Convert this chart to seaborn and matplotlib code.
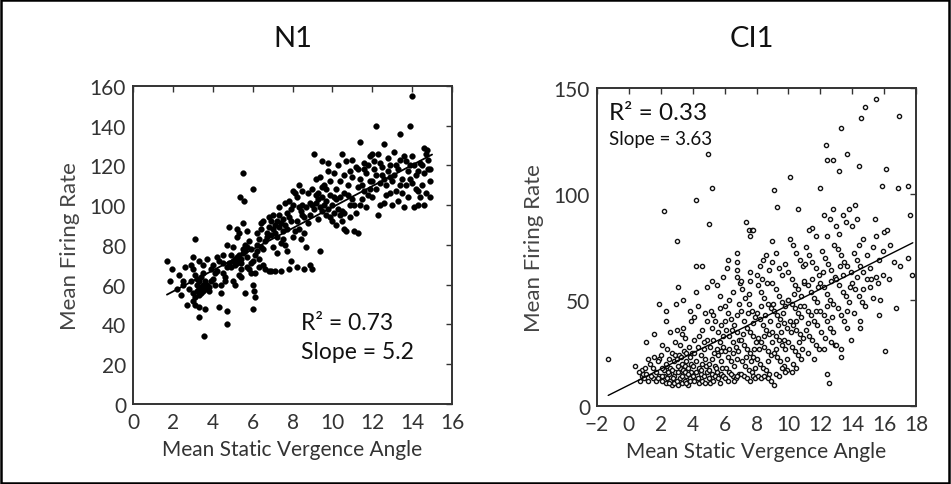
import matplotlib
matplotlib.use("Agg")
import matplotlib.pyplot as plt
import seaborn as sns
import pandas as pd
from matplotlib.patches import Rectangle

# ---------------- data ----------------
panel_titles = ["N1", "CI1"]
x_label = "Mean Static Vergence Angle"
y_label = "Mean Firing Rate"

n1_points = [
    (1.7,72),(1.95,68),(1.85,62),(2.5,62),(2.5,60),(2.3,65),(2.2,58),(2.4,55),(2.7,50),(2.6,69),(2.9,70),(2.8,58),(2.9,62),
    (3.0,68),(3.1,83),(3.1,65),(3.2,63),(3.2,60),(3.3,58),(3.3,62),(3.4,59),(3.4,56),(3.5,60),(3.5,57),(3.6,62),(3.6,58),
    (3.3,55),(3.2,57),(3.0,56),(3.1,54),(3.4,64),(3.5,66),(3.7,60),(3.8,59),(3.9,62),(3.7,73),(3.5,70),(3.3,72),(3.0,74),
    (3.1,50),(3.3,49),(3.6,48),(3.3,44),(3.55,34),(3.0,52),(3.8,57),(4.0,63),(4.1,66),(4.0,70),(3.9,68),
    (4.2,67),(4.3,72),(4.5,66),(4.3,49),(4.7,47),(4.7,40),(4.4,60),(4.6,62),(4.5,75),(4.8,71),(4.8,89),(4.9,75),(4.7,69),
    (4.9,69),(4.2,74),(4.6,64),(4.4,56),(4.1,60),(4.7,80),(4.5,71),
    (5.0,72),(5.1,73),(5.1,70),(5.2,71),(5.2,74),(5.3,72),(5.3,75),(5.4,73),(5.4,71),(5.5,78),(5.5,76),(5.6,77),(5.6,80),
    (5.7,74),(5.7,79),(5.8,82),(5.9,78),(5.0,79),(5.2,84),(5.3,86),(5.5,116),(5.35,104),(5.55,102),(5.5,91),(5.7,87),
    (5.0,62),(5.3,65),(5.4,64),(5.9,66),(5.8,68),(5.6,56),(5.7,69),(5.2,88),(5.1,60),(5.9,71),(5.4,68),
    (6.0,108),(6.05,57),(6.1,54),(6.0,48),(6.0,60),(6.0,72),(6.1,75),(6.2,77),(6.3,73),(6.2,80),(6.4,79),(6.3,83),(6.5,78),
    (6.6,82),(6.7,84),(6.5,92),(6.4,88),(6.7,86),(6.8,89),(6.9,85),(6.5,70),(6.6,68),(6.3,69),(6.8,67),(6.9,67),(6.1,66),
    (6.4,91),(6.8,94),(6.2,86),(6.9,92),
    (7.0,88),(7.1,90),(7.1,86),(7.2,92),(7.3,89),(7.3,95),(7.4,91),(7.5,93),(7.5,87),(7.6,90),(7.7,96),(7.7,88),(7.8,94),
    (7.9,92),(7.9,98),(7.2,84),(7.4,81),(7.5,83),(7.6,80),(7.0,79),(7.3,99),(7.6,101),(7.8,102),(7.1,67),(7.4,67),(7.8,68),
    (7.9,72),(7.2,76),(7.7,77),(7.0,95),
    (8.0,107),(8.1,106),(8.2,104),(8.3,99),(8.4,97),(8.5,100),(8.5,95),(8.6,94),(8.7,99),(8.2,92),(8.3,88),(8.1,87),(8.4,83),
    (8.6,86),(8.8,91),(8.9,95),(8.0,84),(8.2,69),(8.6,68),(8.9,70),(8.7,79),(8.5,107),(8.8,106),(8.3,110),(8.9,101),(8.0,100),
    (9.0,100),(9.1,98),(9.2,105),(9.2,101),(9.3,103),(9.4,99),(9.5,104),(9.5,97),(9.6,100),(9.7,102),(9.8,98),(9.9,105),
    (9.1,126),(9.2,113),(9.4,114),(9.6,110),(9.8,117),(9.0,108),(9.3,106),(9.5,122),(9.9,112),(9.7,95),(9.9,94),(9.3,93),
    (9.0,68),(9.4,77),(9.7,108),(9.5,109),(9.8,121),
    (10.0,100),(10.1,96),(10.2,103),(10.3,98),(10.4,95),(10.5,92),(10.6,88),(10.7,87),(10.5,97),(10.2,108),(10.4,112),
    (10.6,115),(10.8,110),(10.1,116),(10.3,120),(10.9,100),(10.8,105),(10.0,92),(10.2,90),(10.6,96),(10.9,94),(10.4,104),
    (10.7,122),(10.5,126),(10.9,117),(10.1,104),(10.6,106),
    (11.0,103),(11.1,100),(11.2,96),(11.3,109),(11.4,113),(11.5,110),(11.6,118),(11.7,116),(11.8,120),(11.9,112),(11.0,123),
    (11.2,119),(11.5,103),(11.8,105),(11.4,132),(11.6,107),(11.9,125),(11.1,87),(11.3,86),(11.7,99),(11.0,114),(11.3,118),
    (11.6,121),(11.9,108),(11.4,100),
    (12.0,112),(12.1,118),(12.2,140),(12.3,126),(12.4,121),(12.5,115),(12.6,113),(12.7,110),(12.8,117),(12.9,120),(12.0,104),
    (12.2,108),(12.4,100),(12.6,101),(12.8,124),(12.3,95),(12.9,106),(12.1,122),(12.5,119),(12.7,105),(12.0,126),(12.4,111),
    (12.9,114),(12.6,131),(12.2,115),
    (13.0,112),(13.1,115),(13.2,120),(13.3,118),(13.4,110),(13.5,113),(13.6,125),(13.7,122),(13.8,117),(13.9,120),(13.2,107),
    (13.5,106),(13.8,104),(13.4,136),(13.0,100),(13.3,102),(13.6,99),(13.9,140),(13.1,127),(13.7,110),(13.4,123),(13.9,113),
    (14.0,155),(14.0,125),(14.1,120),(14.2,108),(14.3,100),(14.4,104),(14.5,110),(14.6,116),(14.7,126),(14.8,118),(14.9,112),
    (14.1,99),(14.3,107),(14.5,120),(14.7,106),(14.9,104),(14.2,115),(14.4,121),(14.6,129),(14.8,123),(14.0,111),(14.3,117),
    (14.6,100),(14.9,118),(14.75,128),
]
n1_fit_x = [1.7, 15.0]
n1_fit_y = [55.0, 125.5]
n1_xticks = list(range(0, 17, 2))
n1_yticks = list(range(0, 161, 20))
n1_stats = ["R\u00b2 = 0.73", "Slope = 5.2"]

ci1_points = [
    (-1.3,22),(0.4,19),(0.8,17),(0.8,14),(0.7,12),(0.9,15),(1.1,30),(1.2,22),(0.6,16),(1.0,18),(0.95,13),
    (1.6,34),(1.9,48),(1.9,22),(1.5,13),(1.2,12),(1.4,14),(1.7,16),(1.8,21),(1.3,20),(1.6,23),(1.9,14),(1.7,12),(1.1,15),
    (1.5,18),(1.8,13),
    (2.2,92),(2.3,45),(2.3,40),(2.1,29),(2.0,24),(2.1,12),(2.2,14),(2.3,11),(2.4,13),(2.5,15),(2.6,12),(2.7,10),(2.8,14),
    (2.9,16),(2.2,17),(2.4,19),(2.6,18),(2.8,21),(2.9,12),(2.5,22),(2.7,25),(2.9,24),(2.3,20),(2.5,11),(2.8,11),(2.4,27),
    (2.7,17),(2.95,48),(2.9,30),(2.6,35),(2.1,18),(2.05,14),(2.45,16),(2.75,13),
    (3.0,78),(3.1,56),(3.4,50),(3.0,36),(3.3,34),(3.4,37),(3.5,32),(3.2,29),(3.8,45),(3.9,40),(3.0,12),(3.1,10),(3.2,13),
    (3.3,11),(3.4,15),(3.5,12),(3.6,14),(3.7,10),(3.8,13),(3.9,16),(3.1,16),(3.2,18),(3.3,20),(3.4,17),(3.5,19),(3.6,21),
    (3.7,18),(3.8,23),(3.9,20),(3.0,22),(3.15,24),(3.45,26),(3.75,28),(3.6,25),(3.3,14),(3.5,16),(3.7,15),(3.05,19),
    (3.25,23),(3.55,11),(3.85,12),(3.95,25),
    (4.2,97),(4.2,66),(4.6,66),(4.2,54),(4.1,42),(4.9,40),(4.0,14),(4.1,12),(4.2,16),(4.3,13),(4.4,11),(4.5,15),(4.6,12),
    (4.7,14),(4.8,11),(4.9,16),(4.0,19),(4.2,21),(4.4,18),(4.6,20),(4.8,22),(4.1,25),(4.3,28),(4.5,24),(4.7,27),(4.9,31),
    (4.4,33),(4.6,36),(4.8,44),(4.9,56),(4.3,47),(4.7,30),(4.05,31),(4.55,17),(4.85,19),
    (5.0,86),(4.95,119),(5.2,103),(5.15,45),(5.2,59),(5.5,57),(5.7,52),(5.9,61),(5.0,13),(5.1,11),(5.2,15),(5.3,12),
    (5.4,14),(5.5,16),(5.6,13),(5.7,11),(5.8,15),(5.9,14),(5.0,20),(5.2,22),(5.4,19),(5.6,24),(5.8,21),(5.1,28),(5.3,31),
    (5.5,27),(5.7,30),(5.9,33),(5.2,37),(5.4,40),(5.6,35),(5.8,38),(5.3,43),(5.7,46),(5.9,28),(5.05,17),(5.45,18),
    (5.85,18),(5.35,25),(5.75,26),
    (6.2,69),(6.15,65),(6.8,72),(6.8,68),(6.8,64),(6.8,61),(6.5,54),(6.3,50),(6.0,47),(6.2,44),(6.4,41),(6.6,38),(6.8,35),
    (6.9,48),(6.1,36),(6.3,33),(6.5,30),(6.7,28),(6.9,31),(6.0,26),(6.2,23),(6.4,21),(6.6,19),(6.8,22),(6.1,18),(6.3,16),
    (6.5,14),(6.7,13),(6.9,15),(6.0,13),(6.2,12),(6.4,15),(6.6,12),(6.8,14),(6.25,27),(6.55,25),(6.85,26),(6.45,36),
    (6.75,43),(6.05,40),(6.95,58),
    (7.35,87),(7.5,83),(7.7,83),(7.6,80),(7.8,83),(7.0,59),(7.6,59),(7.6,63),(7.1,55),(7.3,51),(7.5,48),(7.7,45),(7.9,42),
    (7.2,40),(7.4,37),(7.6,35),(7.8,33),(7.0,31),(7.2,29),(7.4,27),(7.6,25),(7.8,23),(7.1,21),(7.3,19),(7.5,17),(7.7,16),
    (7.9,18),(7.0,15),(7.2,14),(7.4,13),(7.6,12),(7.8,14),(7.9,13),(7.15,34),(7.45,44),(7.75,39),(7.95,30),(7.35,23),
    (7.65,21),(7.85,27),(7.05,45),(7.55,53),
    (8.0,62),(8.2,66),(8.4,69),(8.6,71),(8.8,64),(8.1,57),(8.3,54),(8.5,51),(8.7,48),(8.9,46),(8.0,44),(8.2,41),(8.4,38),
    (8.6,36),(8.8,34),(8.1,32),(8.3,30),(8.5,28),(8.7,26),(8.9,24),(8.0,22),(8.2,20),(8.4,18),(8.6,17),(8.8,15),(8.1,14),
    (8.3,13),(8.5,14),(8.7,13),(8.9,12),(8.25,47),(8.55,43),(8.85,40),(8.45,33),(8.75,21),(8.15,27),(8.95,30),(8.35,60),
    (8.65,58),
    (9.1,102),(9.3,94),(9.0,78),(9.1,10),(9.0,68),(9.2,72),(9.4,65),(9.6,62),(9.8,67),(9.0,58),(9.2,55),(9.4,52),(9.6,49),
    (9.8,47),(9.1,45),(9.3,43),(9.5,41),(9.7,39),(9.9,37),(9.0,35),(9.2,33),(9.4,31),(9.6,29),(9.8,27),(9.1,25),(9.3,23),
    (9.5,21),(9.7,19),(9.9,17),(9.2,15),(9.4,14),(9.6,18),(9.8,16),(9.9,22),(9.35,38),(9.65,44),(9.95,50),(9.05,48),
    (9.55,35),(9.75,31),(9.25,27),
    (10.1,108),(10.6,93),(10.1,79),(10.3,76),(10.5,72),(10.7,69),(10.9,66),(10.0,63),(10.2,60),(10.4,57),(10.6,55),
    (10.8,52),(10.0,50),(10.2,48),(10.4,46),(10.6,44),(10.8,42),(10.1,40),(10.3,38),(10.5,36),(10.7,34),(10.9,32),
    (10.0,30),(10.2,28),(10.4,26),(10.6,24),(10.8,22),(10.3,20),(10.5,18),(10.2,16),(10.45,40),(10.75,47),(10.95,58),
    (10.15,35),(10.65,30),(10.85,27),(10.35,53),
    (11.5,84),(11.3,83),(11.7,80),(11.1,75),(11.3,71),(11.5,68),(11.7,65),(11.9,62),(11.0,59),(11.2,57),(11.4,54),
    (11.6,51),(11.8,49),(11.0,47),(11.2,45),(11.4,43),(11.6,40),(11.8,38),(11.1,36),(11.3,33),(11.5,31),(11.7,29),
    (11.9,27),(11.2,25),(11.6,22),(11.45,60),(11.85,56),(11.05,67),(11.75,45),(11.25,39),
    (12.0,103),(12.34,123),(12.4,116),(12.8,116),(12.4,80),(12.2,90),(12.6,88),(12.8,93),(12.1,73),(12.3,70),(12.5,67),
    (12.7,64),(12.9,61),(12.0,58),(12.2,56),(12.4,53),(12.6,50),(12.8,48),(12.0,45),(12.2,43),(12.4,40),(12.6,37),
    (12.8,35),(12.3,32),(12.7,30),(12.95,29),(12.4,15),(12.55,11),(12.15,63),(12.65,59),(12.85,76),(12.45,47),(12.05,35),
    (12.75,42),(12.25,27),
    (13.3,131),(13.65,119),(13.2,111),(13.2,81),(13.0,85),(13.4,90),(13.6,87),(13.8,93),(13.1,74),(13.3,71),(13.5,68),
    (13.7,66),(13.9,63),(13.0,60),(13.2,57),(13.4,54),(13.6,52),(13.8,49),(13.1,46),(13.3,43),(13.5,40),(13.7,37),
    (13.9,31),(13.3,27),(13.3,23),(13.0,29),(13.45,62),(13.85,56),(13.25,66),(13.65,45),
    (14.2,95),(14.45,113),(14.57,136),(14.8,141),(14.5,40),(14.5,37),(14.0,85),(14.3,88),(14.7,79),(14.1,72),(14.3,69),
    (14.5,66),(14.7,63),(14.9,60),(14.0,58),(14.2,55),(14.4,52),(14.6,49),(14.8,47),(14.1,44),(14.3,61),(14.7,55),
    (14.9,71),(14.4,76),
    (15.5,145),(15.85,104),(15.1,65),(15.3,75),(15.5,80),(15.7,69),(15.9,62),(15.1,56),(15.3,51),(15.75,50),(15.7,43),
    (15.5,61),(15.2,60),(15.95,73),(15.4,88),(15.6,58),
    (16.0,82),(16.14,112),(16.05,26),(16.4,76),(16.6,68),(17.0,66),(17.5,70),(17.75,62),(16.75,46),(16.95,137),
    (16.9,103),(17.5,104),(17.6,90),(16.3,60),(16.2,83),
]
ci1_fit_x = [-1.3, 17.8]
ci1_fit_y = [5.0, 77.0]
ci1_xticks = list(range(-2, 19, 2))
ci1_yticks = [0, 50, 100, 150]
ci1_stats = ["R\u00b2 = 0.33", "Slope = 3.63"]

# ---------------- styling ----------------
sns.set_theme(style="white")
plt.rcParams["font.family"] = ["Lato", "DejaVu Sans"]
text_col = "#333333"
plt.rcParams["text.color"] = text_col
plt.rcParams["axes.labelcolor"] = text_col
plt.rcParams["xtick.color"] = text_col
plt.rcParams["ytick.color"] = text_col

fig = plt.figure(figsize=(9.51, 4.85), dpi=100)
fig.patches.append(Rectangle((0.001, 0.002), 0.997, 0.996, transform=fig.transFigure,
                             fill=False, edgecolor="black", linewidth=1.8))

ax1 = fig.add_axes([0.1399, 0.165, 0.3354, 0.6557])
ax2 = fig.add_axes([0.6278, 0.1608, 0.3354, 0.6557])

df1 = pd.DataFrame(n1_points, columns=["x", "y"])
df2 = pd.DataFrame(ci1_points, columns=["x", "y"])
fit1 = pd.DataFrame({"x": n1_fit_x, "y": n1_fit_y})
fit2 = pd.DataFrame({"x": ci1_fit_x, "y": ci1_fit_y})

sns.scatterplot(data=df1, x="x", y="y", ax=ax1, s=17, color="black",
                edgecolor="black", linewidth=0.3, legend=False, zorder=3)
sns.lineplot(data=fit1, x="x", y="y", ax=ax1, color="black", linewidth=1.3, zorder=4)

sns.scatterplot(data=df2, x="x", y="y", ax=ax2, s=9, facecolor="white",
                edgecolor="#111111", linewidth=1.0, legend=False, zorder=3)
sns.lineplot(data=fit2, x="x", y="y", ax=ax2, color="black", linewidth=1.0, zorder=4)

for ax, xt, yt in [(ax1, n1_xticks, n1_yticks), (ax2, ci1_xticks, ci1_yticks)]:
    ax.set_xlim(xt[0], xt[-1])
    ax.set_ylim(yt[0], yt[-1])
    ax.set_xticks(xt)
    ax.set_yticks(yt)
    ax.tick_params(direction="in", length=4, width=1.0, top=True, right=True,
                   labelsize=15, color="#333333")
    ax.tick_params(axis="x", pad=6)
    ax.tick_params(axis="y", pad=5)
    for sp in ax.spines.values():
        sp.set_visible(True)
        sp.set_color("#333333")
        sp.set_linewidth(1.4)
    ax.set_xlabel(x_label, fontsize=15, labelpad=5)
    ax.set_ylabel(y_label, fontsize=16, labelpad=7, color="#444444")

fig.text(0.308, 0.92, panel_titles[0], fontsize=21, ha="center", va="center", color="#111111")
fig.text(0.791, 0.92, panel_titles[1], fontsize=21, ha="center", va="center", color="#111111")

ax1.text(8.4, 41, n1_stats[0], fontsize=16.5, ha="left", va="center", color="#111111")
ax1.text(8.4, 26.5, n1_stats[1], fontsize=16.5, ha="left", va="center", color="#111111")
ax2.text(-1.25, 138.5, ci1_stats[0], fontsize=17.5, ha="left", va="center", color="#111111")
ax2.text(-1.25, 126.3, ci1_stats[1], fontsize=13.5, ha="left", va="center", color="#111111")

fig.savefig("out.png", dpi=100)
